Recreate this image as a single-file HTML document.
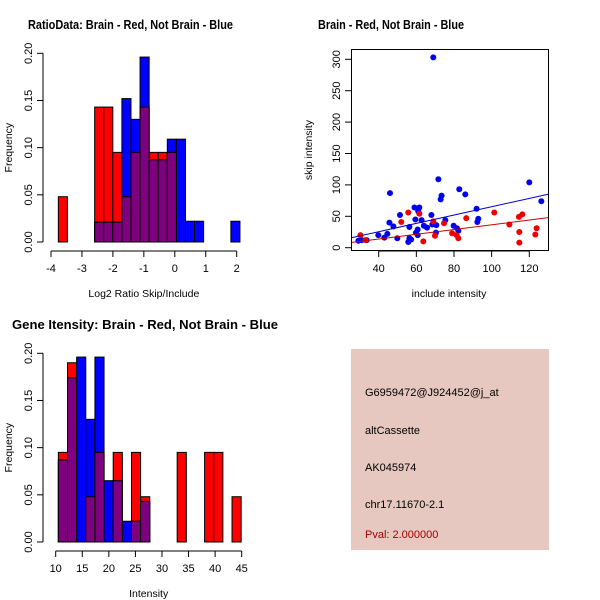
<!DOCTYPE html>
<html><head><meta charset="utf-8"><style>
html,body{margin:0;padding:0;background:#fff;}
svg{display:block;font-family:"Liberation Sans",Arial,sans-serif;}
</style></head><body>
<svg id="c" width="600" height="600" viewBox="0 0 600 600">
<rect width="600" height="600" fill="#fff"/>
<text x="28" y="29" font-size="12.5" font-weight="bold" textLength="205" lengthAdjust="spacingAndGlyphs">RatioData: Brain - Red, Not Brain - Blue</text>
<text x="318" y="29" font-size="12.5" font-weight="bold" textLength="146" lengthAdjust="spacingAndGlyphs">Brain - Red, Not Brain - Blue</text>
<text x="12" y="329" font-size="12.5" font-weight="bold" textLength="266" lengthAdjust="spacingAndGlyphs">Gene Itensity: Brain - Red, Not Brain - Blue</text>
<g>
<rect x="351" y="349" width="198" height="201" fill="#e6c8c0"/>
<text x="365" y="396" font-size="11">G6959472@J924452@j_at</text>
<text x="365" y="434" font-size="11">altCassette</text>
<text x="365" y="471" font-size="11">AK045974</text>
<text x="365" y="508" font-size="11">chr17.11670-2.1</text>
<text x="365" y="538" font-size="11" fill="#a00000">Pval: 2.000000</text>
</g>
</svg>
<script>
// ---- Ratio histogram data ----
const ratioStart = -3.763, ratioWidth = 0.2934;
const ratioRed  = [0.048,0,0,0,0.143,0.143,0.095,0.048,0.095,0.143,0.095,0.095,0.095,0,0,0,0,0,0,0];
const ratioBlue = [0,0,0,0,0.021,0.021,0.021,0.152,0.130,0.196,0.087,0.087,0.109,0.109,0.022,0.022,0,0,0,0.022];
const ratioXTicks = [-4,-3,-2,-1,0,1,2];
const freqTicks = ["0.00","0.05","0.10","0.15","0.20"];
// ---- Intensity histogram data ----
const intStart = 10.5, intWidth = 1.72;
const intRed  = [0.095,0.190,0,0.048,0.095,0,0.095,0,0.095,0.048,0,0,0,0.095,0,0,0.095,0.095,0,0.048];
const intBlue = [0.087,0.174,0.196,0.130,0.196,0.065,0.065,0.022,0.022,0.043,0,0,0,0,0,0,0,0,0,0];
const intXTicks = [10,15,20,25,30,35,40,45];
// ---- Scatter data ----
const blueX = [69,71.7,120,46,82.8,86,73.4,72.9,126.4,59,61.6,61,92,51.3,68,59.5,62.8,75.4,92.9,92.4,45.7,68.5,70.6,64,65.7,47.8,56.3,79.8,81.6,82.3,60.7,70.4,59.8,60.7,39.8,44.6,43,49.9,56.3,57.2,55.7,29.2,31,33.6];
const blueY = [303,109,104,87,93,85,83,77,74,64,64,58,62,52,52,45,44,44,46,41,40,37,36,35,32,34,33,35,31,27,29,24,24,20,20,22,16,15,15,13,9,11,12,12];
const redX = [55.7,61.6,52,69,74.7,86.5,101.4,116.3,114.5,109.4,123.9,114.7,123.2,79,81.4,82.3,69.9,63.7,114.7,30.3,33];
const redY = [56,54,41,42,39,47,56,53,49,37,31,25,21,23,20,15,19,10,8,20,12];
const blueFit = [-1.0, 0.662]; // intercept, slope
const redFit = [-1.2, 0.377];
const scatterXTicks = [40,60,80,100,120];
const scatterYTicks = [0,50,100,150,200,250,300];

const NS = "http://www.w3.org/2000/svg";
const svg = document.getElementById('c');
function mk(tag, attrs, parent){
  const e = document.createElementNS(NS, tag);
  for (const k in attrs) e.setAttribute(k, attrs[k]);
  (parent||svg).appendChild(e);
  return e;
}
function txt(x,y,s,size,anchor,rot,parent){
  const t = mk('text',{x:x,y:y,'font-size':size,'text-anchor':anchor||'middle'},parent);
  if (rot) t.setAttribute('transform','rotate(-90 '+x+' '+y+')');
  t.textContent = s;
  return t;
}

function histogram(name, start, width, red, blue, xTicks, xScale, yScale, axisY, axisX, xLabel, labelY){
  const g = mk('g',{});
  
  
  const draw = (vals, color, label) => {
    vals.forEach((v,i)=>{
      if (!v) return;
      const x0 = xScale(start + i*width), x1 = xScale(start + (i+1)*width);
      const r = mk('rect',{x:x0,y:yScale(v),width:x1-x0,height:yScale(0)-yScale(v),fill:color,stroke:'#000','stroke-width':1},g);
      
      
    });
  };
  draw(red,'#ff0000','red');
  draw(blue,'#0000ff','blue');
  draw(red.map((v,i)=>Math.min(v,blue[i])),'#7f007f','overlap');
  const xa = mk('g',{},g);
  
  
  mk('line',{x1:xScale(xTicks[0]),x2:xScale(xTicks[xTicks.length-1]),y1:axisY,y2:axisY,stroke:'#000'},xa);
  xTicks.forEach(t=>{
    mk('line',{x1:xScale(t),x2:xScale(t),y1:axisY,y2:axisY+6,stroke:'#000'},xa);
    txt(xScale(t),axisY+21,String(t),11,'middle',false,xa);
  });
  const xl = txt((xScale(xTicks[0])+xScale(xTicks[xTicks.length-1]))/2, labelY, xLabel, 10.5,'middle',false,g);
  
  
  const ya = mk('g',{},g);
  
  
  mk('line',{x1:axisX,x2:axisX,y1:yScale(0),y2:yScale(0.2),stroke:'#000'},ya);
  freqTicks.forEach(t=>{
    const y = yScale(parseFloat(t));
    mk('line',{x1:axisX-6,x2:axisX,y1:y,y2:y,stroke:'#000'},ya);
    txt(axisX-11,y,t,11,'middle',true,ya);
  });
  const yl = txt(12,(yScale(0)+yScale(0.2))/2,'Frequency',10.5,'middle',true,g);
  
  
}

const rx = v => 51 + (v+4)*30.95;
const ry = v => 242 - v*943.5;
histogram('ratio-histogram', ratioStart, ratioWidth, ratioRed, ratioBlue, ratioXTicks, rx, ry, 251, 43, 'Log2 Ratio Skip/Include', 297);

const ix = v => 55.7 + (v-10)*5.314;
const iy = v => 542 - v*943.5;
histogram('intensity-histogram', intStart, intWidth, intRed, intBlue, intXTicks, ix, iy, 551, 43, 'Intensity', 597);

const sx = v => 378.7 + (v-40)*1.8825;
const sy = v => 247.7 - v*0.628;
const sg = mk('g',{});


const box = mk('rect',{x:351.5,y:49.5,width:197,height:201,fill:'none',stroke:'#000'},sg);


const clipId='sclip';
const defs = mk('defs',{},sg);
const cp = mk('clipPath',{id:clipId},defs);
mk('rect',{x:351.5,y:49.5,width:197,height:201},cp);
function fitLine(fit,color,name){
  const xa = 25.7, xb = 130;
  const l = mk('line',{x1:sx(xa),y1:sy(fit[0]+fit[1]*xa),x2:sx(xb),y2:sy(fit[0]+fit[1]*xb),stroke:color,'stroke-width':1,'clip-path':'url(#'+clipId+')'},sg);
  
  
}
blueX.forEach((x,i)=>{
  const c = mk('circle',{cx:sx(x),cy:sy(blueY[i]),r:3,fill:'#0000ee'},sg);
  
  
});
redX.forEach((x,i)=>{
  const c = mk('circle',{cx:sx(x),cy:sy(redY[i]),r:3,fill:'#ee0000'},sg);
  
  
});
fitLine(blueFit,'#0000cc','blue-fit-line');
fitLine(redFit,'#cc0000','red-fit-line');
const sxa = mk('g',{},sg);


mk('line',{x1:sx(40),x2:sx(120),y1:251,y2:251,stroke:'#000'},sxa);
scatterXTicks.forEach(t=>{
  mk('line',{x1:sx(t),x2:sx(t),y1:251,y2:257,stroke:'#000'},sxa);
  txt(sx(t),272,String(t),11,'middle',false,sxa);
});
const sya = mk('g',{},sg);


scatterYTicks.forEach(t=>{
  mk('line',{x1:345,x2:351,y1:sy(t),y2:sy(t),stroke:'#000'},sya);
  txt(340,sy(t),String(t),11,'middle',true,sya);
});
const sxl = txt(449,297,'include intensity',10.5,'middle',false,sg);


const syl = txt(312,150,'skip intensity',10.5,'middle',true,sg);


</script>
</body></html>
